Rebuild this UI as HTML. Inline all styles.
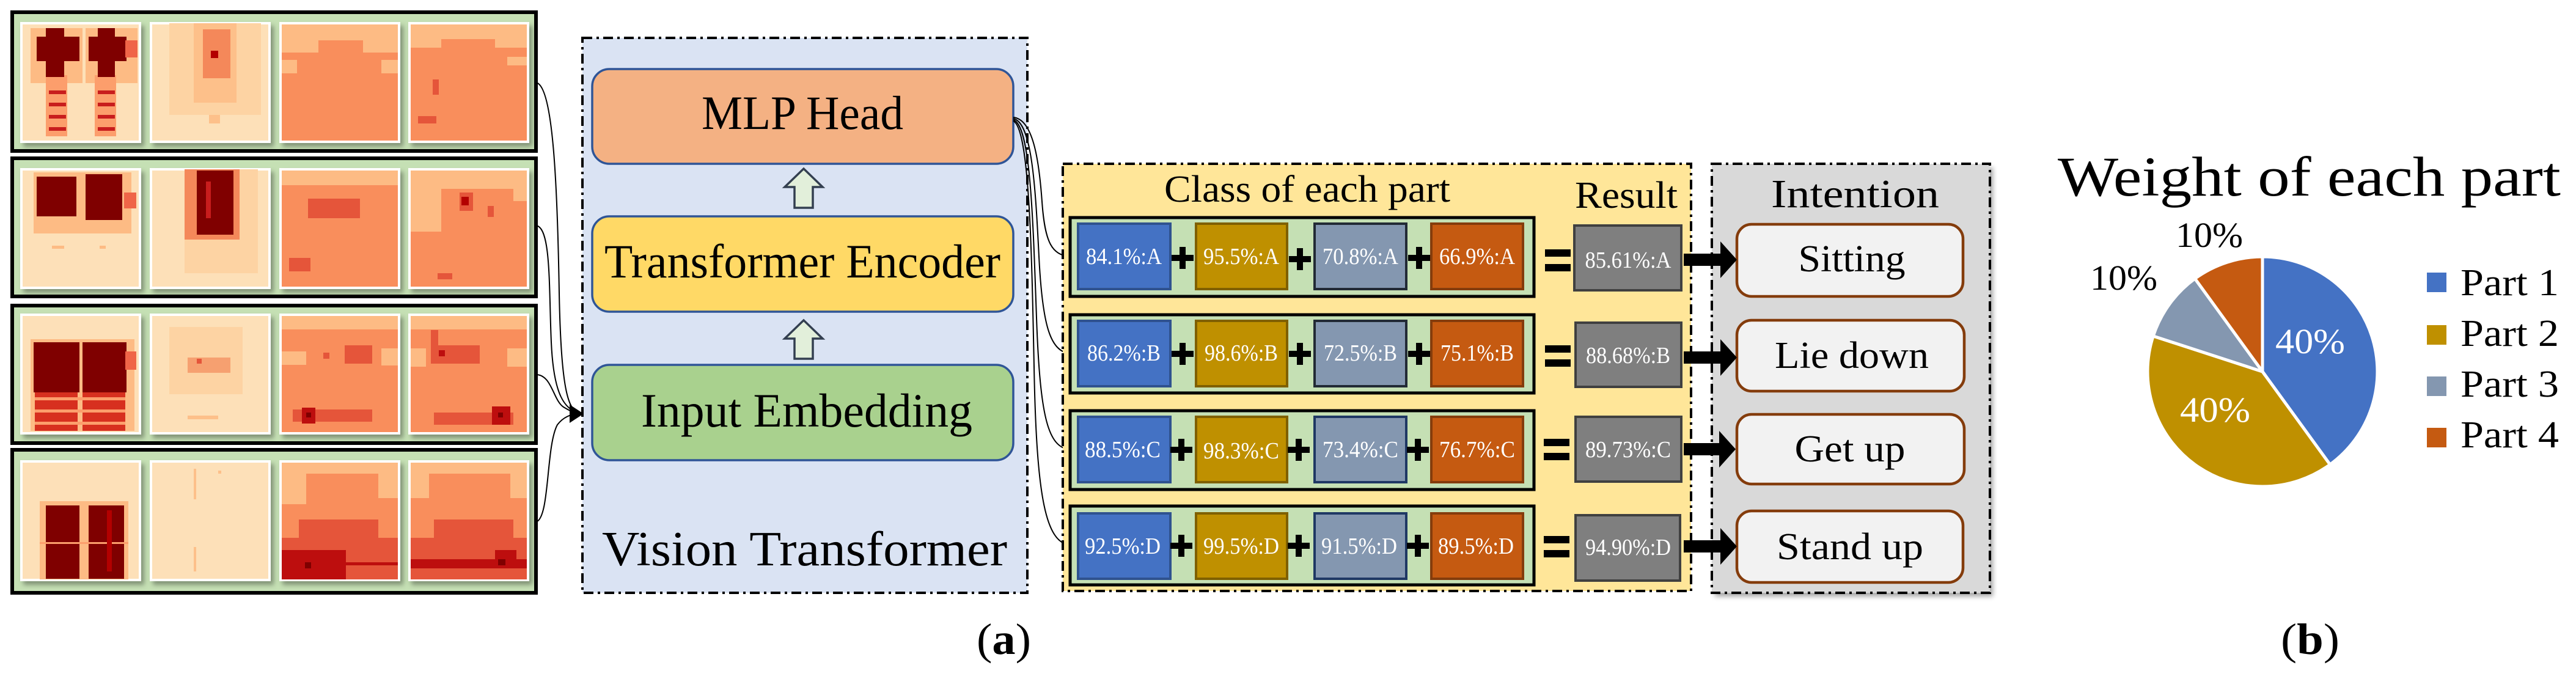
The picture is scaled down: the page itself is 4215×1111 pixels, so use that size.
<!DOCTYPE html>
<html><head><meta charset="utf-8"><style>
html,body{margin:0;padding:0;background:#fff;}
svg{display:block;}
text{font-family:"Liberation Serif",serif;}
</style></head><body>
<svg width="4215" height="1111" viewBox="0 0 4215 1111" xmlns="http://www.w3.org/2000/svg">
<defs>
<filter id="sh" x="-10%" y="-10%" width="130%" height="130%"><feDropShadow dx="5" dy="6" stdDeviation="4" flood-color="#000" flood-opacity="0.35"/></filter>
<marker id="ah" markerWidth="10" markerHeight="10" refX="9" refY="5" orient="auto" markerUnits="userSpaceOnUse"><path d="M0,0 L10,5 L0,10 z" fill="#000"/></marker>
<marker id="ahb" markerWidth="24" markerHeight="24" refX="22" refY="12" orient="auto" markerUnits="userSpaceOnUse"><path d="M0,0 L24,12 L0,24 z" fill="#000"/></marker>
</defs>

<!-- ===== Heatmap panels ===== -->
<g stroke="#000" stroke-width="6" fill="#c5e0b4">
<rect x="20" y="20" width="857" height="227"/>
<rect x="20" y="259" width="857" height="226"/>
<rect x="20" y="500" width="857" height="225"/>
<rect x="20" y="736" width="857" height="234"/>
</g>

<!-- Row 1 -->
<g transform="translate(35,38)"><g filter="url(#sh)"><rect width="194" height="194" fill="#fde0b8" stroke="#fff" stroke-width="4"/></g>
<rect x="15" y="8" width="85" height="90" fill="#fdbb84"/><rect x="105" y="8" width="85" height="90" fill="#fdbb84"/>
<rect x="40" y="85" width="35" height="100" fill="#fc9e6c"/><rect x="120" y="85" width="35" height="100" fill="#fc9e6c"/>
<rect x="25" y="22" width="70" height="40" fill="#7f0000"/><rect x="40" y="8" width="30" height="80" fill="#7f0000"/>
<rect x="110" y="22" width="62" height="40" fill="#7f0000"/><rect x="125" y="8" width="28" height="80" fill="#7f0000"/>
<rect x="170" y="28" width="20" height="28" fill="#ef6548"/>
<g fill="#c81d1d"><rect x="45" y="110" width="28" height="6"/><rect x="45" y="130" width="28" height="6"/><rect x="45" y="150" width="28" height="6"/><rect x="45" y="170" width="28" height="6"/><rect x="125" y="110" width="28" height="6"/><rect x="125" y="130" width="28" height="6"/><rect x="125" y="150" width="28" height="6"/><rect x="125" y="170" width="28" height="6"/></g></g>
<g transform="translate(247,38)"><g filter="url(#sh)"><rect width="194" height="194" fill="#fde0b8" stroke="#fff" stroke-width="4"/></g>
<rect x="30" y="0" width="150" height="150" fill="#fdd3a3"/><rect x="70" y="0" width="70" height="130" fill="#fdc08a"/><rect x="85" y="10" width="45" height="80" fill="#f4885a"/><rect x="98" y="45" width="12" height="12" fill="#b30000"/><rect x="95" y="150" width="18" height="14" fill="#fdc08a"/></g>
<g transform="translate(459,38)"><g filter="url(#sh)"><rect width="194" height="194" fill="#f98e5b" stroke="#fff" stroke-width="4"/></g>
<rect x="2" y="2" width="190" height="26" fill="#fdbb84"/><rect x="2" y="28" width="60" height="20" fill="#fdbb84"/><rect x="135" y="28" width="57" height="20" fill="#fdbb84"/><rect x="2" y="60" width="25" height="22" fill="#fdbb84"/><rect x="165" y="60" width="27" height="22" fill="#fdbb84"/></g>
<g transform="translate(670,38)"><g filter="url(#sh)"><rect width="194" height="194" fill="#f98e5b" stroke="#fff" stroke-width="4"/></g>
<rect x="2" y="2" width="190" height="24" fill="#fdbb84"/><rect x="2" y="26" width="50" height="14" fill="#fdbb84"/><rect x="140" y="26" width="52" height="14" fill="#fdbb84"/><rect x="160" y="55" width="32" height="14" fill="#fdbb84"/><rect x="38" y="92" width="10" height="25" fill="#e5553a"/><rect x="14" y="152" width="30" height="12" fill="#e5553a"/></g>

<!-- Row 2 -->
<g transform="translate(35,277)"><g filter="url(#sh)"><rect width="194" height="194" fill="#fde0b8" stroke="#fff" stroke-width="4"/></g>
<rect x="20" y="5" width="80" height="100" fill="#fdbb84"/><rect x="100" y="5" width="80" height="100" fill="#fdbb84"/>
<rect x="25" y="12" width="65" height="65" fill="#7f0000"/><rect x="105" y="8" width="60" height="75" fill="#7f0000"/><rect x="168" y="38" width="20" height="26" fill="#ef6548"/>
<rect x="50" y="125" width="20" height="5" fill="#fdbb84"/><rect x="128" y="125" width="10" height="5" fill="#fdbb84"/></g>
<g transform="translate(247,277)"><g filter="url(#sh)"><rect width="194" height="194" fill="#fde0b8" stroke="#fff" stroke-width="4"/></g>
<rect x="55" y="0" width="120" height="170" fill="#fdd3a3"/><rect x="55" y="0" width="90" height="115" fill="#f4885a"/><rect x="75" y="2" width="60" height="105" fill="#800000"/><rect x="90" y="20" width="8" height="60" fill="#c81d1d"/></g>
<g transform="translate(459,277)"><g filter="url(#sh)"><rect width="194" height="194" fill="#f98e5b" stroke="#fff" stroke-width="4"/></g>
<rect x="2" y="2" width="190" height="24" fill="#fdbb84"/><rect x="45" y="48" width="85" height="32" fill="#e5553a"/><rect x="14" y="145" width="35" height="22" fill="#e5553a"/></g>
<g transform="translate(670,277)"><g filter="url(#sh)"><rect width="194" height="194" fill="#f98e5b" stroke="#fff" stroke-width="4"/></g>
<rect x="2" y="2" width="190" height="30" fill="#fdbb84"/><rect x="2" y="32" width="50" height="70" fill="#fdbb84"/><rect x="170" y="32" width="22" height="20" fill="#fdbb84"/><rect x="82" y="38" width="22" height="30" fill="#e5553a"/><rect x="85" y="45" width="12" height="14" fill="#b30000"/><rect x="128" y="60" width="10" height="18" fill="#e5553a"/><rect x="46" y="170" width="24" height="10" fill="#e5553a"/></g>

<!-- Row 3 -->
<g transform="translate(35,515)"><g filter="url(#sh)"><rect width="194" height="194" fill="#fde0b8" stroke="#fff" stroke-width="4"/></g>
<rect x="15" y="40" width="170" height="150" fill="#fdbb84"/><rect x="22" y="125" width="70" height="65" fill="#d7301f"/><rect x="100" y="125" width="70" height="65" fill="#d7301f"/>
<g fill="#fc9e6c"><rect x="22" y="135" width="148" height="5"/><rect x="22" y="155" width="148" height="5"/><rect x="22" y="175" width="148" height="5"/></g>
<rect x="20" y="45" width="75" height="82" fill="#7f0000"/><rect x="100" y="45" width="72" height="82" fill="#7f0000"/><rect x="170" y="60" width="18" height="30" fill="#ef6548"/></g>
<g transform="translate(247,515)"><g filter="url(#sh)"><rect width="194" height="194" fill="#fde0b8" stroke="#fff" stroke-width="4"/></g>
<rect x="30" y="20" width="120" height="110" fill="#fdd3a3"/><rect x="60" y="70" width="70" height="25" fill="#f6a070"/><rect x="75" y="72" width="8" height="8" fill="#e5553a"/><rect x="60" y="165" width="50" height="6" fill="#fdc08a"/></g>
<g transform="translate(459,515)"><g filter="url(#sh)"><rect width="194" height="194" fill="#f98e5b" stroke="#fff" stroke-width="4"/></g>
<rect x="2" y="2" width="190" height="22" fill="#fdbb84"/><rect x="2" y="60" width="40" height="22" fill="#fdbb84"/><rect x="165" y="55" width="27" height="28" fill="#fdbb84"/><rect x="105" y="50" width="45" height="30" fill="#e5553a"/><rect x="70" y="62" width="10" height="10" fill="#e5553a"/><rect x="20" y="155" width="130" height="20" fill="#e5553a"/><rect x="35" y="152" width="22" height="26" fill="#bd0e0e"/><rect x="42" y="160" width="8" height="8" fill="#7f0000"/></g>
<g transform="translate(670,515)"><g filter="url(#sh)"><rect width="194" height="194" fill="#f98e5b" stroke="#fff" stroke-width="4"/></g>
<rect x="2" y="2" width="190" height="22" fill="#fdbb84"/><rect x="2" y="55" width="25" height="30" fill="#fdbb84"/><rect x="160" y="55" width="32" height="30" fill="#fdbb84"/><rect x="35" y="25" width="12" height="45" fill="#e5553a"/><rect x="35" y="50" width="80" height="30" fill="#e5553a"/><rect x="48" y="58" width="10" height="10" fill="#bd0e0e"/><rect x="40" y="160" width="130" height="20" fill="#e5553a"/><rect x="135" y="150" width="30" height="30" fill="#bd0e0e"/><rect x="145" y="160" width="8" height="8" fill="#7f0000"/></g>

<!-- Row 4 -->
<g transform="translate(35,755)"><g filter="url(#sh)"><rect width="194" height="194" fill="#fde0b8" stroke="#fff" stroke-width="4"/></g>
<rect x="30" y="65" width="145" height="128" fill="#fdbb84"/><rect x="40" y="72" width="55" height="120" fill="#7f0000"/><rect x="110" y="72" width="58" height="120" fill="#7f0000"/>
<rect x="30" y="132" width="145" height="3" fill="#fc9e6c"/><rect x="140" y="80" width="8" height="100" fill="#b30000"/></g>
<g transform="translate(247,755)"><g filter="url(#sh)"><rect width="194" height="194" fill="#fde0b8" stroke="#fff" stroke-width="4"/></g>
<rect x="70" y="12" width="4" height="50" fill="#fdc08a"/><rect x="70" y="140" width="4" height="40" fill="#fdc08a"/><rect x="110" y="15" width="5" height="5" fill="#fdc08a"/></g>
<g transform="translate(459,755)"><g filter="url(#sh)"><rect width="194" height="194" fill="#f98e5b" stroke="#fff" stroke-width="4"/></g>
<rect x="2" y="2" width="190" height="18" fill="#fdbb84"/><rect x="2" y="20" width="40" height="50" fill="#fdbb84"/><rect x="160" y="20" width="32" height="40" fill="#fdbb84"/>
<rect x="30" y="95" width="130" height="98" fill="#e5553a"/><rect x="2" y="125" width="190" height="68" fill="#e5553a"/><rect x="2" y="145" width="105" height="48" fill="#bd0e0e"/><rect x="2" y="165" width="190" height="5" fill="#bd0e0e"/><rect x="40" y="165" width="10" height="10" fill="#7f0000"/></g>
<g transform="translate(670,755)"><g filter="url(#sh)"><rect width="194" height="194" fill="#f98e5b" stroke="#fff" stroke-width="4"/></g>
<rect x="2" y="2" width="190" height="18" fill="#fdbb84"/><rect x="2" y="20" width="30" height="40" fill="#fdbb84"/><rect x="165" y="20" width="27" height="40" fill="#fdbb84"/>
<rect x="40" y="95" width="130" height="30" fill="#e5553a"/><rect x="2" y="125" width="190" height="68" fill="#e5553a"/><rect x="2" y="160" width="190" height="15" fill="#bd0e0e"/><rect x="140" y="145" width="35" height="30" fill="#bd0e0e"/><rect x="145" y="160" width="12" height="10" fill="#7f0000"/></g>

<!-- Connectors from heatmaps to input embedding -->
<g fill="none" stroke="#000" stroke-width="2">
<path d="M877,135 C905,140 912,300 915,480 C918,640 930,668 946,676"/>
<path d="M877,369 C902,372 898,470 902,560 C906,650 925,668 946,676"/>
<path d="M877,613 C903,613 905,655 922,666 C932,672 938,675 946,676"/>
<path d="M877,854 C900,848 893,730 912,695 C922,682 934,678 946,677"/>
</g>
<path d="M932,662 L955,677 L932,692 z" fill="#000"/>

<!-- ===== Vision Transformer ===== -->
<rect x="953" y="62" width="728" height="908" fill="#dae3f3" stroke="#000" stroke-width="4" stroke-dasharray="16 7 4 7"/>
<rect x="969" y="113" width="689" height="155" rx="28" fill="#f4b183" stroke="#2f5597" stroke-width="3.5"/>
<rect x="969" y="354" width="689" height="156" rx="28" fill="#ffd966" stroke="#2f5597" stroke-width="3.5"/>
<rect x="969" y="597" width="689" height="156" rx="28" fill="#a9d18e" stroke="#2f5597" stroke-width="3.5"/>
<text x="1148" y="211" font-size="78" textLength="330" lengthAdjust="spacingAndGlyphs">MLP Head</text>
<text x="989" y="454" font-size="78" textLength="648" lengthAdjust="spacingAndGlyphs">Transformer Encoder</text>
<text x="1049" y="698" font-size="78" textLength="542" lengthAdjust="spacingAndGlyphs">Input Embedding</text>
<text x="985" y="925" font-size="80" textLength="663" lengthAdjust="spacingAndGlyphs">Vision Transformer</text>
<path d="M1300,340 L1300,306 L1284,306 L1315,276 L1346,306 L1330,306 L1330,340 z" fill="#e2efda" stroke="#333f50" stroke-width="3.5"/>
<path d="M1300,587 L1300,554 L1284,554 L1315,524 L1346,554 L1330,554 L1330,587 z" fill="#e2efda" stroke="#333f50" stroke-width="3.5"/>
<text x="1598" y="1070" font-size="72" textLength="89" lengthAdjust="spacingAndGlyphs">(<tspan font-weight="bold">a</tspan>)</text>

<!-- MLP head connectors -->
<g fill="none" stroke="#000" stroke-width="2" marker-end="url(#ah)">
<path d="M1658,192 C1690,195 1700,260 1705,330 C1710,400 1722,416 1750,420"/>
<path d="M1658,194 C1688,200 1694,300 1700,420 C1706,540 1720,573 1750,579"/>
<path d="M1658,196 C1686,205 1690,350 1696,520 C1702,690 1716,730 1750,736"/>
<path d="M1658,198 C1684,210 1688,400 1692,600 C1696,820 1712,886 1750,892"/>
</g>

<!-- ===== Class of each part ===== -->
<rect x="1739" y="268" width="1028" height="699" fill="#ffe699" stroke="#000" stroke-width="4" stroke-dasharray="16 7 4 7"/>
<text x="1905" y="330" font-size="62" textLength="468" lengthAdjust="spacingAndGlyphs">Class of each part</text>
<text x="2577" y="340" font-size="62" textLength="168" lengthAdjust="spacingAndGlyphs">Result</text>

<g id="rows">
<!-- row boxes -->
<g fill="#c5e0b4" stroke="#000" stroke-width="5">
<rect x="1751" y="356" width="759" height="129"/>
<rect x="1751" y="515" width="759" height="128"/>
<rect x="1751" y="672" width="759" height="129"/>
<rect x="1751" y="828" width="759" height="129"/>
</g>
<g stroke-width="4">
<rect x="1764" y="366" width="151" height="107" fill="#4472c4" stroke="#2f528f"/>
<rect x="1957" y="366" width="149" height="107" fill="#bf9000" stroke="#7f6000"/>
<rect x="2151" y="366" width="150" height="107" fill="#8497b0" stroke="#222a35"/>
<rect x="2342" y="366" width="150" height="107" fill="#c55a11" stroke="#843c0c"/>
<rect x="1764" y="525" width="151" height="107" fill="#4472c4" stroke="#2f528f"/>
<rect x="1957" y="525" width="149" height="107" fill="#bf9000" stroke="#7f6000"/>
<rect x="2151" y="525" width="150" height="107" fill="#8497b0" stroke="#222a35"/>
<rect x="2342" y="525" width="150" height="107" fill="#c55a11" stroke="#843c0c"/>
<rect x="1764" y="682" width="151" height="107" fill="#4472c4" stroke="#2f528f"/>
<rect x="1957" y="682" width="149" height="107" fill="#bf9000" stroke="#7f6000"/>
<rect x="2151" y="682" width="150" height="107" fill="#8497b0" stroke="#1f3864"/>
<rect x="2342" y="682" width="150" height="107" fill="#c55a11" stroke="#843c0c"/>
<rect x="1764" y="840" width="151" height="107" fill="#4472c4" stroke="#2f528f"/>
<rect x="1957" y="840" width="149" height="107" fill="#bf9000" stroke="#7f6000"/>
<rect x="2151" y="840" width="150" height="107" fill="#8497b0" stroke="#1f3864"/>
<rect x="2342" y="840" width="150" height="107" fill="#c55a11" stroke="#843c0c"/>
<rect x="2576" y="369" width="175" height="106" fill="#7f7f7f" stroke="#404040"/>
<rect x="2578" y="528" width="173" height="105" fill="#7f7f7f" stroke="#404040"/>
<rect x="2578" y="682" width="173" height="106" fill="#7f7f7f" stroke="#404040"/>
<rect x="2578" y="843" width="171" height="107" fill="#7f7f7f" stroke="#404040"/>
</g>
<!-- plus signs -->
<g stroke="#000" stroke-width="10">
<path d="M1935,404 v36 M1917,422 h36"/><path d="M2127,406 v36 M2109,424 h36"/><path d="M2322,404 v36 M2304,422 h36"/>
<path d="M1935,561 v36 M1917,579 h36"/><path d="M2127,561 v36 M2109,579 h36"/><path d="M2322,561 v36 M2304,579 h36"/>
<path d="M1933,718 v36 M1915,736 h36"/><path d="M2125,718 v36 M2107,736 h36"/><path d="M2320,718 v36 M2302,736 h36"/>
<path d="M1933,875 v36 M1915,893 h36"/><path d="M2125,875 v36 M2107,893 h36"/><path d="M2320,875 v36 M2302,893 h36"/>
</g>
<!-- equals -->
<g fill="#000">
<rect x="2528" y="408" width="42" height="12"/><rect x="2528" y="432" width="42" height="12"/>
<rect x="2528" y="565" width="42" height="12"/><rect x="2528" y="588" width="42" height="12"/>
<rect x="2526" y="718" width="42" height="12"/><rect x="2526" y="741" width="42" height="12"/>
<rect x="2526" y="877" width="42" height="12"/><rect x="2526" y="900" width="42" height="12"/>
</g>
<g fill="#fff" font-size="38" text-anchor="middle">
<text x="1839" y="432" textLength="124" lengthAdjust="spacingAndGlyphs">84.1%:A</text>
<text x="2031" y="432" textLength="124" lengthAdjust="spacingAndGlyphs">95.5%:A</text>
<text x="2226" y="432" textLength="124" lengthAdjust="spacingAndGlyphs">70.8%:A</text>
<text x="2417" y="432" textLength="124" lengthAdjust="spacingAndGlyphs">66.9%:A</text>
<text x="1839" y="590" textLength="120" lengthAdjust="spacingAndGlyphs">86.2%:B</text>
<text x="2031" y="590" textLength="120" lengthAdjust="spacingAndGlyphs">98.6%:B</text>
<text x="2226" y="590" textLength="120" lengthAdjust="spacingAndGlyphs">72.5%:B</text>
<text x="2417" y="590" textLength="120" lengthAdjust="spacingAndGlyphs">75.1%:B</text>
<text x="1837" y="748" textLength="124" lengthAdjust="spacingAndGlyphs">88.5%:C</text>
<text x="2031" y="750" textLength="124" lengthAdjust="spacingAndGlyphs">98.3%:C</text>
<text x="2226" y="748" textLength="124" lengthAdjust="spacingAndGlyphs">73.4%:C</text>
<text x="2417" y="748" textLength="124" lengthAdjust="spacingAndGlyphs">76.7%:C</text>
<text x="1837" y="906" textLength="124" lengthAdjust="spacingAndGlyphs">92.5%:D</text>
<text x="2031" y="906" textLength="124" lengthAdjust="spacingAndGlyphs">99.5%:D</text>
<text x="2224" y="906" textLength="124" lengthAdjust="spacingAndGlyphs">91.5%:D</text>
<text x="2415" y="906" textLength="124" lengthAdjust="spacingAndGlyphs">89.5%:D</text>
<text x="2664" y="438" textLength="141" lengthAdjust="spacingAndGlyphs">85.61%:A</text>
<text x="2664" y="594" textLength="138" lengthAdjust="spacingAndGlyphs">88.68%:B</text>
<text x="2664" y="748" textLength="140" lengthAdjust="spacingAndGlyphs">89.73%:C</text>
<text x="2664" y="908" textLength="140" lengthAdjust="spacingAndGlyphs">94.90%:D</text>
</g>
</g>

<!-- ===== Intention ===== -->
<g filter="url(#sh)"><rect x="2801" y="268" width="455" height="702" fill="#d9d9d9"/></g>
<rect x="2801" y="268" width="455" height="702" fill="#d9d9d9" stroke="#000" stroke-width="4" stroke-dasharray="16 7 4 7"/>
<text x="2898" y="339" font-size="66" textLength="275" lengthAdjust="spacingAndGlyphs">Intention</text>
<g fill="#f2f2f2" stroke="#843c0c" stroke-width="4.5">
<rect x="2842" y="367" width="370" height="118" rx="24"/>
<rect x="2842" y="524" width="372" height="116" rx="24"/>
<rect x="2842" y="678" width="372" height="114" rx="24"/>
<rect x="2842" y="836" width="370" height="117" rx="24"/>
</g>
<g font-size="62" text-anchor="middle">
<text x="3030" y="444" textLength="175" lengthAdjust="spacingAndGlyphs">Sitting</text>
<text x="3030" y="602" textLength="252" lengthAdjust="spacingAndGlyphs">Lie down</text>
<text x="3027" y="755" textLength="181" lengthAdjust="spacingAndGlyphs">Get up</text>
<text x="3027" y="915" textLength="240" lengthAdjust="spacingAndGlyphs">Stand up</text>
</g>
<!-- thick arrows -->
<g fill="#000">
<path d="M2755,415 h60 v-20 l27,30 l-27,30 v-20 h-60 z"/>
<path d="M2755,575 h60 v-20 l27,30 l-27,30 v-20 h-60 z"/>
<path d="M2755,725 h58 v-20 l27,30 l-27,30 v-20 h-58 z"/>
<path d="M2755,884 h60 v-20 l27,30 l-27,30 v-20 h-60 z"/>
</g>

<!-- ===== Pie chart ===== -->
<text x="3367" y="320" font-size="92" textLength="823" lengthAdjust="spacingAndGlyphs">Weight of each part</text>
<g stroke="#fff" stroke-width="5">
<path d="M3702,608 L3702,420 A188,188 0 0 1 3812.5,760.1 z" fill="#4472c4"/>
<path d="M3702,608 L3812.5,760.1 A188,188 0 0 1 3523.2,549.9 z" fill="#bf9000"/>
<path d="M3702,608 L3523.2,549.9 A188,188 0 0 1 3591.5,455.9 z" fill="#8497b0"/>
<path d="M3702,608 L3591.5,455.9 A188,188 0 0 1 3702,420 z" fill="#c55a11"/>
</g>
<g font-size="58">
<text x="3560" y="404" textLength="110" lengthAdjust="spacingAndGlyphs">10%</text>
<text x="3420" y="474" textLength="110" lengthAdjust="spacingAndGlyphs">10%</text>
<text x="3723" y="578" fill="#fff" textLength="114" lengthAdjust="spacingAndGlyphs">40%</text>
<text x="3567" y="690" fill="#fff" textLength="115" lengthAdjust="spacingAndGlyphs">40%</text>
</g>
<rect x="3971" y="446" width="32" height="32" fill="#4472c4"/>
<rect x="3971" y="532" width="32" height="32" fill="#bf9000"/>
<rect x="3971" y="616" width="32" height="32" fill="#8497b0"/>
<rect x="3971" y="700" width="32" height="32" fill="#c55a11"/>
<g font-size="62">
<text x="4026" y="483" textLength="161" lengthAdjust="spacingAndGlyphs">Part 1</text>
<text x="4026" y="566" textLength="161" lengthAdjust="spacingAndGlyphs">Part 2</text>
<text x="4026" y="649" textLength="161" lengthAdjust="spacingAndGlyphs">Part 3</text>
<text x="4026" y="732" textLength="161" lengthAdjust="spacingAndGlyphs">Part 4</text>
</g>
<text x="3732" y="1070" font-size="72" textLength="96" lengthAdjust="spacingAndGlyphs">(<tspan font-weight="bold">b</tspan>)</text>
</svg>
</body></html>
